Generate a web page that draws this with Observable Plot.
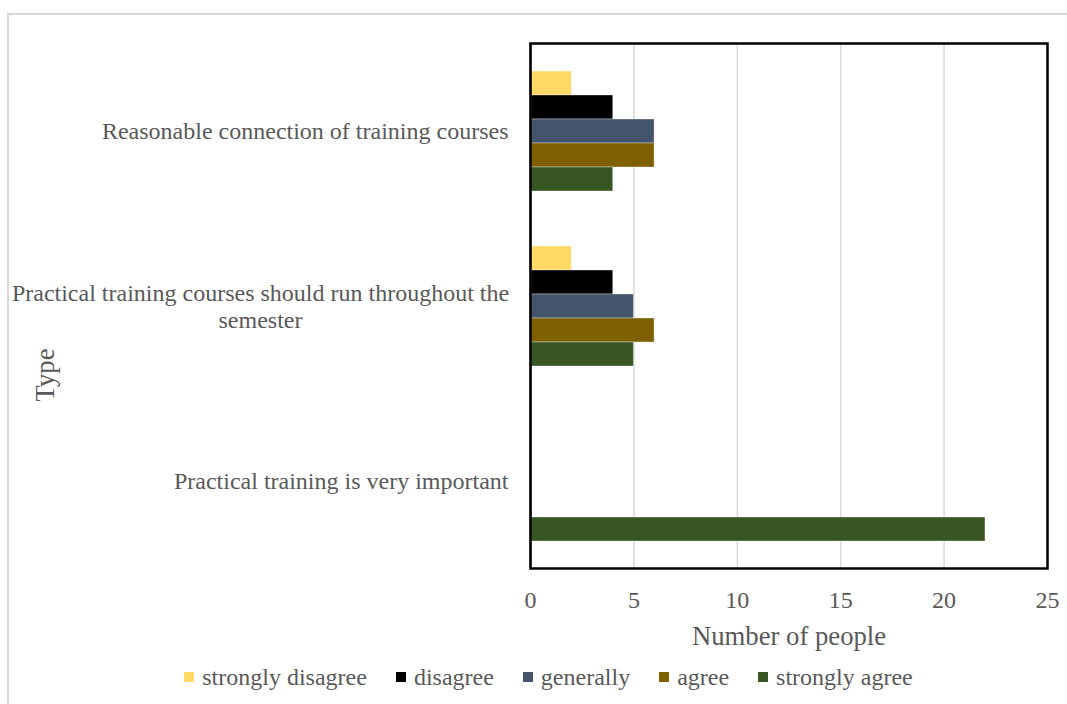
<!DOCTYPE html>
<html>
<head>
<meta charset="utf-8">
<script src="https://cdn.jsdelivr.net/npm/d3@7"></script>
<script src="https://cdn.jsdelivr.net/npm/@observablehq/plot@0.6"></script>
<style>
  html, body { margin: 0; padding: 0; background: #fff; }
  #wrap { position: relative; width: 1067px; height: 704px; overflow: hidden; font-family: 'Liberation Serif', 'Times New Roman', serif; color: #595959; }
  #border { position: absolute; left: 7px; top: 13px; width: 1070px; height: 700px; border: 2px solid #d9d9d9; box-sizing: border-box; }
  #chart { position: absolute; left: 0; top: 0; }
  #ytitle { position: absolute; left: 45px; top: 375px; transform: translate(-50%, -50%) rotate(-90deg); font-size: 26.7px; white-space: nowrap; }
  #legend { position: absolute; left: 0; top: 663px; width: 1067px; display: flex; justify-content: center; padding-left: 30px; box-sizing: border-box; font-size: 24px; line-height: 28px; }
  .item { display: flex; align-items: center; margin: 0 14.5px; }
  .sw { width: 10px; height: 10px; margin-right: 8px; }
</style>
</head>
<body>
<div id="wrap">
  <div id="border"></div>
  <div id="chart"></div>
  <div id="ytitle">Type</div>
  <div id="legend"></div>
</div>
<script>
const categories = [
  "Reasonable connection of training courses",
  "Practical training courses should run throughout the semester",
  "Practical training is very important"
];
const categoryLabels = [
  "Reasonable connection of training courses",
  "Practical training courses should run throughout the\nsemester",
  "Practical training is very important"
];
const series = ["strongly disagree", "disagree", "generally", "agree", "strongly agree"];
const colors = ["#FFD966", "#000000", "#44546A", "#7F6000", "#375623"];
const reasonableConnection = [2, 4, 6, 6, 4];
const runThroughout = [2, 4, 5, 6, 5];
const veryImportant = [0, 0, 0, 0, 22];
const xTicks = [0, 5, 10, 15, 20, 25];
const gridTicks = [5, 10, 15, 20];

const valuesByCategory = [reasonableConnection, runThroughout, veryImportant];
const data = categories.flatMap((c, i) => series.map((s, j) => ({category: c, series: s, value: valuesByCategory[i][j]})));
const labelRows = categories.map((c, i) => ({category: c, label: categoryLabels[i]}));

const chart = Plot.plot({
  width: 1067,
  height: 655,
  marginTop: 43,
  marginLeft: 530,
  marginRight: 20,
  marginBottom: 87,
  style: {fontFamily: "'Liberation Serif', 'Times New Roman', serif", fontSize: "24px", color: "#595959", background: "transparent", overflow: "visible"},
  x: {domain: [0, 25], ticks: xTicks, tickSize: 0, tickPadding: 22, label: "Number of people", labelAnchor: "center", labelArrow: "none", labelOffset: 76},
  fy: {domain: categories, padding: 0, axis: null},
  y: {domain: series, paddingInner: 0, paddingOuter: 1.1, axis: null},
  color: {domain: series, range: colors},
  marks: [
    Plot.gridX(gridTicks, {stroke: "#d9d9d9", strokeOpacity: 1, strokeWidth: 1.5}),
    Plot.barX(data.filter(d => d.value > 0), {x: "value", y: "series", fy: "category", fill: "series", stroke: "#ffffff", strokeOpacity: 0.35, strokeWidth: 1}),
    Plot.ruleX([0], {stroke: "#7f7f7f", strokeWidth: 2}),
    Plot.frame({facet: "super", stroke: "#000", strokeWidth: 2.5}),
    Plot.text(labelRows.filter(d => !d.label.includes("\n")), {fy: "category", text: "label", frameAnchor: "left", textAnchor: "end", dx: -22, fill: "#595959", fontSize: 24}),
    Plot.text(labelRows.filter(d => d.label.includes("\n")), {fy: "category", text: "label", frameAnchor: "left", textAnchor: "middle", dx: -270, lineHeight: 1.1, fill: "#595959", fontSize: 24})
  ]
});
d3.select(chart).selectAll("[aria-label='x-axis label'] text, [aria-label='x-axis label']")
  .style("font-size", "26.7px");
document.getElementById("chart").append(chart);

const legend = document.getElementById("legend");
series.forEach((s, i) => {
  const item = document.createElement("div");
  item.className = "item";
  const sw = document.createElement("span");
  sw.className = "sw";
  sw.style.background = colors[i];
  const t = document.createElement("span");
  t.textContent = s;
  item.append(sw, t);
  legend.append(item);
});
</script>
</body>
</html>
